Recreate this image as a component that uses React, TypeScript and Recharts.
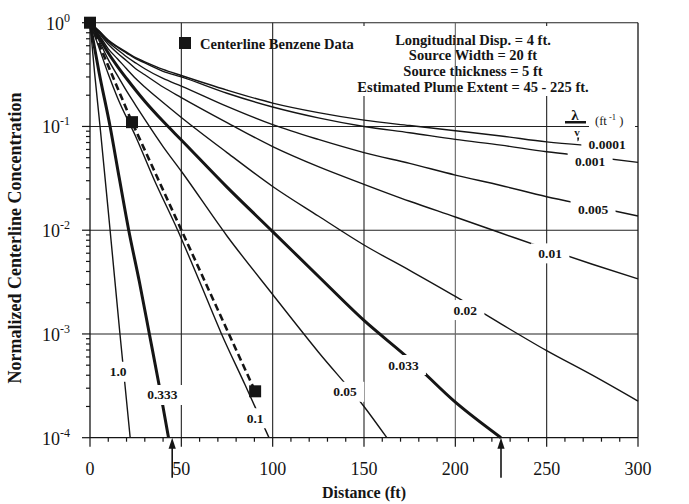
import React from "react";
import { ComposedChart, Line, Scatter, XAxis, YAxis, CartesianGrid, ReferenceLine } from "recharts";

// ---- data (distance in ft, normalized centerline concentration) ----
const curve0001 = [
  { x: 0, y: 1 }, { x: 5, y: 0.83 }, { x: 10, y: 0.68 }, { x: 15, y: 0.59 }, { x: 20, y: 0.52 },
  { x: 25, y: 0.46 }, { x: 30, y: 0.42 }, { x: 40, y: 0.355 }, { x: 50, y: 0.31 }, { x: 75, y: 0.224 },
  { x: 100, y: 0.168 }, { x: 125, y: 0.136 }, { x: 150, y: 0.115 }, { x: 175, y: 0.102 },
  { x: 200, y: 0.091 }, { x: 225, y: 0.081 }, { x: 250, y: 0.071 }, { x: 270, y: 0.066 },
];
const curve001 = [
  { x: 0, y: 1 }, { x: 5, y: 0.83 }, { x: 10, y: 0.67 }, { x: 15, y: 0.58 }, { x: 20, y: 0.51 },
  { x: 25, y: 0.45 }, { x: 30, y: 0.41 }, { x: 40, y: 0.34 }, { x: 50, y: 0.3 }, { x: 75, y: 0.209 },
  { x: 100, y: 0.154 }, { x: 125, y: 0.121 }, { x: 150, y: 0.1 }, { x: 175, y: 0.087 },
  { x: 200, y: 0.075 }, { x: 225, y: 0.066 }, { x: 250, y: 0.057 }, { x: 275, y: 0.051 }, { x: 300, y: 0.045 },
];
const curve005 = [
  { x: 0, y: 1 }, { x: 5, y: 0.81 }, { x: 10, y: 0.65 }, { x: 15, y: 0.55 }, { x: 20, y: 0.47 },
  { x: 25, y: 0.41 }, { x: 30, y: 0.36 }, { x: 40, y: 0.29 }, { x: 50, y: 0.245 }, { x: 75, y: 0.156 },
  { x: 100, y: 0.104 }, { x: 125, y: 0.075 }, { x: 150, y: 0.056 }, { x: 175, y: 0.044 },
  { x: 200, y: 0.034 }, { x: 225, y: 0.027 }, { x: 250, y: 0.021 }, { x: 275, y: 0.017 }, { x: 300, y: 0.0137 },
];
const curve01 = [
  { x: 0, y: 1 }, { x: 5, y: 0.79 }, { x: 10, y: 0.62 }, { x: 15, y: 0.51 }, { x: 20, y: 0.43 },
  { x: 25, y: 0.36 }, { x: 30, y: 0.315 }, { x: 40, y: 0.24 }, { x: 50, y: 0.19 }, { x: 75, y: 0.109 },
  { x: 100, y: 0.064 }, { x: 125, y: 0.041 }, { x: 150, y: 0.0277 }, { x: 175, y: 0.019 },
  { x: 200, y: 0.0134 }, { x: 225, y: 0.0094 }, { x: 250, y: 0.0066 }, { x: 275, y: 0.0047 }, { x: 300, y: 0.0034 },
];
const curve02 = [
  { x: 0, y: 1 }, { x: 5, y: 0.76 }, { x: 10, y: 0.56 }, { x: 15, y: 0.45 }, { x: 20, y: 0.36 },
  { x: 25, y: 0.29 }, { x: 30, y: 0.24 }, { x: 40, y: 0.17 }, { x: 50, y: 0.122 }, { x: 75, y: 0.056 },
  { x: 100, y: 0.0264 }, { x: 125, y: 0.0137 }, { x: 150, y: 0.0072 }, { x: 175, y: 0.0041 },
  { x: 200, y: 0.0023 }, { x: 225, y: 0.00125 }, { x: 250, y: 0.00069 }, { x: 275, y: 0.0004 }, { x: 300, y: 0.000225 },
];
const curve033 = [
  { x: 0, y: 1 }, { x: 5, y: 0.72 }, { x: 10, y: 0.51 }, { x: 15, y: 0.38 }, { x: 20, y: 0.29 },
  { x: 30, y: 0.175 }, { x: 40, y: 0.112 }, { x: 50, y: 0.074 }, { x: 75, y: 0.026 },
  { x: 100, y: 0.0097 }, { x: 125, y: 0.0036 }, { x: 150, y: 0.00135 }, { x: 175, y: 0.00057 },
  { x: 200, y: 0.00022 }, { x: 225, y: 0.0001 },
];
const curve05 = [
  { x: 0, y: 1 }, { x: 5, y: 0.67 }, { x: 10, y: 0.44 }, { x: 15, y: 0.31 }, { x: 20, y: 0.22 },
  { x: 25, y: 0.16 }, { x: 30, y: 0.117 }, { x: 40, y: 0.064 }, { x: 50, y: 0.037 }, { x: 75, y: 0.0088 },
  { x: 100, y: 0.0024 }, { x: 125, y: 0.00067 }, { x: 150, y: 0.0002 }, { x: 162.5, y: 0.0001 },
];
const curve1 = [
  { x: 0, y: 1 }, { x: 5, y: 0.57 }, { x: 10, y: 0.32 }, { x: 15, y: 0.19 }, { x: 25, y: 0.08 },
  { x: 35, y: 0.031 }, { x: 48, y: 0.01 }, { x: 60, y: 0.0032 }, { x: 72, y: 0.001 },
  { x: 85, y: 0.00032 }, { x: 98, y: 0.0001 },
];
const curve333 = [
  { x: 0, y: 1 }, { x: 5, y: 0.33 }, { x: 11, y: 0.1 }, { x: 16, y: 0.032 }, { x: 21.2, y: 0.01 },
  { x: 27, y: 0.0032 }, { x: 32.5, y: 0.001 }, { x: 38, y: 0.00031 }, { x: 43, y: 0.0001 },
];
const curve1_0 = [
  { x: 0, y: 1 }, { x: 2.5, y: 0.33 }, { x: 5.5, y: 0.1 }, { x: 11, y: 0.01 }, { x: 16.4, y: 0.001 }, { x: 22, y: 0.0001 },
];
const dashedFit = [{ x: 0, y: 1 }, { x: 23, y: 0.11 }, { x: 90.4, y: 0.00028 }];
const benzeneData = [{ x: 0, y: 1 }, { x: 23, y: 0.11 }, { x: 90.4, y: 0.00028 }];

const curveLabels = [
  { x: 283.1, y: 0.0673, label: "0.0001" },
  { x: 273.8, y: 0.0457, label: "0.001" },
  { x: 275.4, y: 0.01567, label: "0.005" },
  { x: 251.9, y: 0.00598, label: "0.01" },
  { x: 205.4, y: 0.0017, label: "0.02" },
  { x: 171.6, y: 0.000502, label: "0.033" },
  { x: 139.6, y: 0.000277, label: "0.05" },
  { x: 90.4, y: 0.000154, label: "0.1" },
  { x: 39.6, y: 0.000258, label: "0.333" },
  { x: 15.4, y: 0.000432, label: "1.0" },
];

const plumeExtent = [45, 225];
const arrowFoot = 4.1e-5;

const xTicks = [0, 10, 20, 30, 40, 50, 60, 70, 80, 90, 100, 110, 120, 130, 140, 150, 160, 170, 180, 190, 200,
  210, 220, 230, 240, 250, 260, 270, 280, 290, 300];
const yDecades = [0.0001, 0.001, 0.01, 0.1, 1];
const yMinor = [2, 3, 4, 5, 6, 7, 8, 9];
const gridX = [50, 100, 150, 250];
const gridXLight = 200;
const gridY = [1, 0.1, 0.01, 0.001];

const noteLines = [
  "Longitudinal Disp. = 4 ft.",
  "Source Width = 20 ft",
  "Source thickness = 5 ft",
  "Estimated Plume Extent = 45 - 225 ft.",
];
const legendText = "Centerline Benzene Data";
const xTitle = "Distance (ft)";
const yTitle = "Normalized Centerline Concentration";

const series = [
  { name: "0.0001", data: curve0001, bold: false },
  { name: "0.001", data: curve001, bold: false },
  { name: "0.005", data: curve005, bold: false },
  { name: "0.01", data: curve01, bold: false },
  { name: "0.02", data: curve02, bold: false },
  { name: "0.033", data: curve033, bold: true },
  { name: "0.05", data: curve05, bold: false },
  { name: "0.1", data: curve1, bold: false },
  { name: "0.333", data: curve333, bold: true },
  { name: "1.0", data: curve1_0, bold: false },
];

const yTicks: number[] = [];
yDecades.forEach((d, i) => {
  yTicks.push(d);
  if (i < yDecades.length - 1) yMinor.forEach((m) => yTicks.push(d * m));
});

const FONT = "'Liberation Serif', 'Times New Roman', serif";
const INK = "#151515";

const isDecade = (v: number) => Math.abs(Math.log10(v) - Math.round(Math.log10(v))) < 1e-6;

const YTick = (side: "left" | "right") => (props: any) => {
  const { x, y, payload } = props;
  const v = payload.value;
  const major = isDecade(v);
  const dir = side === "left" ? -1 : 1;
  const len = major ? 8 : 4;
  const exp = Math.round(Math.log10(v));
  return (
    <g>
      <line x1={x} x2={x + dir * len} y1={y} y2={y} stroke={INK} strokeWidth={1.2} />
      {major && (
        <text
          x={side === "left" ? x - 20 : x + 22}
          y={y + 7}
          textAnchor={side === "left" ? "end" : "start"}
          fontFamily={FONT}
          fontSize={18}
          fill={INK}
        >
          10
          <tspan dy={-8} fontSize={12}>{String(exp)}</tspan>
        </text>
      )}
    </g>
  );
};

const XTick = (props: any) => {
  const { x, y, payload } = props;
  const v = payload.value;
  const major = v % 50 === 0;
  return (
    <g>
      <line x1={x} x2={x} y1={y} y2={y + (major ? 9 : 4)} stroke={INK} strokeWidth={1.2} />
      {major && (
        <text x={x} y={y + 37} textAnchor="middle" fontFamily={FONT} fontSize={18} fill={INK}>
          {v}
        </text>
      )}
    </g>
  );
};

const LabelBox = (props: any) => {
  const { cx, cy, payload } = props;
  const t: string = payload.label;
  const w = t.length * 6.6 + 12;
  return (
    <g>
      <rect x={cx - w / 2} y={cy - 10} width={w} height={20} fill="#fff" />
      <text x={cx} y={cy + 4.5} textAnchor="middle" fontFamily={FONT} fontWeight="bold" fontSize={13.5} fill={INK}>
        {t}
      </text>
    </g>
  );
};

const DataSquare = (props: any) => {
  const { cx, cy } = props;
  return <rect x={cx - 6} y={cy - 6} width={12} height={12} fill={INK} />;
};

const ArrowShape = (props: any) => {
  const { x1, y1, x2, y2 } = props;
  const x = x1;
  const top = Math.min(y1, y2);
  const bottom = Math.max(y1, y2);
  return (
    <g>
      <line x1={x} x2={x2} y1={bottom} y2={top + 8} stroke={INK} strokeWidth={1.6} />
      <polygon points={`${x},${top} ${x - 3.6},${top + 11} ${x + 3.6},${top + 11}`} fill={INK} />
    </g>
  );
};

const Notes = () => (
  <g>
    <rect x={348} y={26} width={250} height={70} fill="#fff" />
    {noteLines.map((t, i) => (
      <text key={t} x={473} y={44.5 + i * 15.8} textAnchor="middle" fontFamily={FONT} fontWeight="bold" fontSize={14.5} fill={INK}>
        {t}
      </text>
    ))}
    <rect x={179} y={37} width={12} height={12} fill={INK} />
    <text x={200} y={48.5} fontFamily={FONT} fontWeight="bold" fontSize={14.5} fill={INK}>{legendText}</text>
    <rect x={589} y={110} width={46} height={20} fill="#fff" />
    <text x={575} y={120} textAnchor="middle" fontFamily={FONT} fontWeight="bold" fontSize={15} fill={INK}>λ</text>
    <rect x={565} y={121} width={21} height={2.5} fill={INK} />
    <text x={577} y={136} textAnchor="middle" fontFamily={FONT} fontWeight="bold" fontSize={11} fill={INK}>v</text>
    <path d="M577.2,137.5 L579.2,137.5 L578.6,140.5 L577.6,141.5 Z" fill={INK} />
    <text x={595} y={124.5} fontFamily={FONT} fontSize={12.5} fill={INK}>
      (ft<tspan dy={-5} fontSize={8.5}> -1</tspan><tspan dy={5}> )</tspan>
    </text>
    <text x={364} y={498} textAnchor="middle" fontFamily={FONT} fontWeight="bold" fontSize={16} fill={INK}>{xTitle}</text>
    <text transform="translate(21,238) rotate(-90)" textAnchor="middle" fontFamily={FONT} fontWeight="bold" fontSize={18} fill={INK}>
      {yTitle}
    </text>
  </g>
);

export default function App() {
  return (
    <div style={{ position: "absolute", left: 0, top: 0, width: 689, height: 504, background: "#fff" }}>
      <ComposedChart width={689} height={504} margin={{ top: 22.7, right: 6, bottom: 26.3, left: 20 }}>
        <CartesianGrid
          horizontal
          vertical
          horizontalValues={gridY}
          verticalValues={gridX}
          stroke="#222"
          strokeWidth={1.1}
          fill="none"
        />
        <XAxis
          type="number"
          dataKey="x"
          domain={[0, 300]}
          ticks={xTicks}
          interval={0}
          tick={XTick}
          tickSize={0}
          tickMargin={0}
          tickLine={false}
          height={40}
          axisLine={{ stroke: INK, strokeWidth: 1.3 }}
        />
        <YAxis
          type="number"
          dataKey="y"
          scale="log"
          domain={[0.0001, 1]}
          ticks={yTicks}
          interval={0}
          tick={YTick("left")}
          tickSize={0}
          tickMargin={0}
          tickLine={false}
          width={70}
          axisLine={{ stroke: INK, strokeWidth: 1.3 }}
        />
        <YAxis
          yAxisId="right"
          orientation="right"
          type="number"
          scale="log"
          domain={[0.0001, 1]}
          ticks={yTicks}
          interval={0}
          tick={YTick("right")}
          tickSize={0}
          tickMargin={0}
          tickLine={false}
          width={45}
          axisLine={{ stroke: INK, strokeWidth: 1.3 }}
        />
        <ReferenceLine x={gridXLight} stroke="#666" strokeWidth={1.1} />
        {series.map((s) => (
          <Line
            key={s.name}
            name={s.name}
            data={s.data}
            dataKey="y"
            type="monotone"
            stroke={INK}
            strokeWidth={s.bold ? 3 : 1.4}
            dot={false}
            activeDot={false}
            isAnimationActive={false}
          />
        ))}
        <Line
          name="fit"
          data={dashedFit}
          dataKey="y"
          type="linear"
          stroke={INK}
          strokeWidth={2.6}
          strokeDasharray="7 4"
          dot={false}
          activeDot={false}
          isAnimationActive={false}
        />
        {plumeExtent.map((px) => (
          <ReferenceLine
            key={px}
            segment={[{ x: px, y: arrowFoot }, { x: px, y: 0.0001 }]}
            ifOverflow="visible"
            shape={ArrowShape}
          />
        ))}
        <Scatter name="labels" data={curveLabels} dataKey="y" shape={LabelBox} isAnimationActive={false} />
        <Scatter name="Centerline Benzene Data" data={benzeneData} dataKey="y" shape={DataSquare} isAnimationActive={false} />
        <Notes />
      </ComposedChart>
    </div>
  );
}
